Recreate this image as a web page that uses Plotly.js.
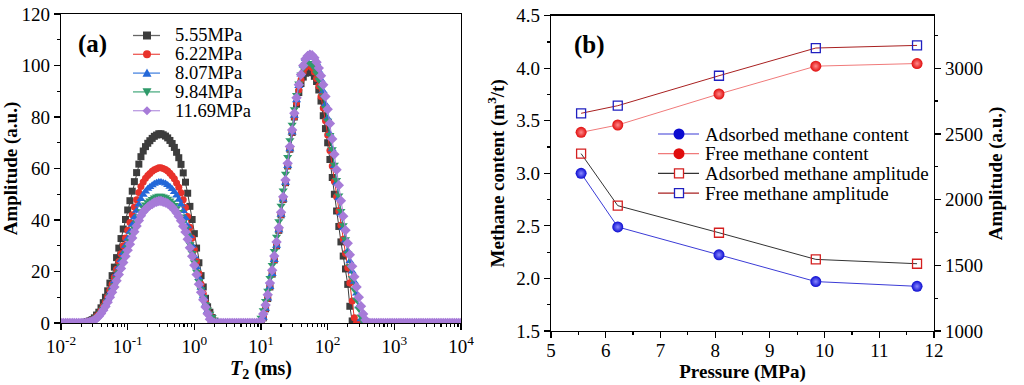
<!DOCTYPE html>
<html><head><meta charset="utf-8">
<script src="https://cdn.plot.ly/plotly-3.0.1.min.js"></script>
<style>html,body{margin:0;padding:0;background:#fff}#chart{width:1024px;height:385px}</style>
</head><body><div id="chart"></div>
<script>
// ---------- Panel (a): T2 spectra ----------
const T2 = [
  0.0100,0.0108,0.0117,0.0126,0.0136,0.0147,0.0158,0.0171,0.0185,0.0200,0.0215,0.0233,0.0251,0.0271,0.0293,0.0316,0.0341,0.0369,0.0398,0.0430,0.0464,0.0501,0.0541,0.0584,0.0631,0.0681,0.0736,0.0794,0.0858,0.0926,
  0.100,0.108,0.117,0.126,0.136,0.147,0.158,0.171,0.185,0.200,0.215,0.233,0.251,0.271,0.293,0.316,0.341,0.369,0.398,0.430,0.464,0.501,0.541,0.584,0.631,0.681,0.736,0.794,0.858,0.926,
  1.00,1.08,1.17,1.26,1.36,1.47,1.58,1.71,1.85,2.00,2.15,2.33,2.51,2.71,2.93,3.16,3.41,3.69,3.98,4.30,4.64,5.01,5.41,5.84,6.31,6.81,7.36,7.94,8.58,9.26,
  10.0,10.8,11.7,12.6,13.6,14.7,15.8,17.1,18.5,20.0,21.5,23.3,25.1,27.1,29.3,31.6,34.1,36.9,39.8,43.0,46.4,50.1,54.1,58.4,63.1,68.1,73.6,79.4,85.8,92.6,
  100,108,117,126,136,147,158,171,185,200,215,233,251,271,293,316,341,369,398,430,464,501,541,584,631,681,736,794,858,926,
  1000,1080,1170,1260,1360,1470,1580,1710,1850,2000,2150,2330,2510,2710,2930,3160,3410,3690,3980,4300,4640,5010,5410,5840,6310,6810,7360,7940,8580,9260,
  10000
];
const seriesNames = ['5.55MPa','6.22MPa','8.07MPa','9.84MPa','11.69MPa'];
const amp555 = [
  0,0,0,0,0,0,0,0,0,0,
  0.1,0.3,0.6,0.9,1.3,2.0,3.1,4.2,5.9,7.9,
  10.0,12.5,15.5,18.4,21.7,25.4,29.1,32.8,36.5,40.2,
  43.9,47.5,51.2,54.9,58.4,61.7,64.6,66.8,68.5,69.8,
  70.8,71.7,72.5,73.0,73.5,73.5,73.1,72.6,71.9,70.9,
  69.7,68.2,66.3,64.2,61.6,58.3,54.7,50.4,45.3,40.2,
  34.7,29.1,23.4,18.4,14.0,9.6,6.3,4.2,2.1,0.7,
  0,0,0,
  0,0,0,0,0,0,0,0,0,0,0,0,0,0,0,0,
  0,0.3,2,5.5,9.5,14,19,24.5,30,36,
  42,48,54.5,61,67.5,74,80,85,89.5,93,
  95.5,97,97.8,98,97.2,95.8,93.8,90.5,86.2,80.5,
  75.5,70,63.5,56.5,50,43.5,37.5,31.5,26,21,
  15,6.5,0.8,0,0,0,0,0,0,0,
  0,
  0,0,0,0,0,0,0,0,0,0,
  0,0,0,0,0,0,0,0,0,0,
  0,0,0,0,0,0,0,0,0,0,
  0,0,0,0,0,0,0,0,0,0,
  0
];
const amp622 = [
  0,0,0,0,0,0,0,0,0,0,
  0.1,0.25,0.5,0.7,1.1,1.6,2.5,3.4,4.8,6.5,
  8.2,10.3,12.7,15.1,17.8,20.9,23.9,26.9,30.0,33.0,
  36.0,39.0,42.0,45.1,47.9,50.7,53.0,54.8,56.2,57.3,
  58.1,58.9,59.5,59.9,60.3,60.3,60.0,59.6,59.0,58.2,
  57.2,56.0,54.4,52.7,50.6,47.9,44.9,41.4,37.2,33.0,
  28.5,23.9,19.2,15.1,11.5,7.9,5.2,3.4,1.7,0.6,
  0,0,0,
  0,0,0,0,0,0,0,0,0,0,0,0,0,0,0,0,
  0,0.3,2,5.5,9.5,14,19,24.5,30,36,
  42,48,54.5,61,67.5,74,80,85.5,90.5,94.5,
  97.5,99.2,100,100,99.2,97.5,95,92,88,83.5,
  78.5,73,67,61,55,49,43.5,38,32.5,27,
  21.5,15.5,8.5,2,0,0,0,0,0,0,
  0,
  0,0,0,0,0,0,0,0,0,0,
  0,0,0,0,0,0,0,0,0,0,
  0,0,0,0,0,0,0,0,0,0,
  0,0,0,0,0,0,0,0,0,0,
  0
];
const amp807 = [
  0,0,0,0,0,0,0,0,0,0,
  0.1,0.2,0.4,0.7,1.0,1.5,2.3,3.1,4.4,5.9,
  7.5,9.3,11.6,13.7,16.2,18.9,21.7,24.5,27.2,30.0,
  32.7,35.4,38.2,41.0,43.6,46.0,48.2,49.8,51.1,52.1,
  52.8,53.5,54.1,54.5,54.8,54.8,54.5,54.2,53.6,52.9,
  52.0,50.9,49.5,47.9,46.0,43.5,40.8,37.6,33.8,30.0,
  25.9,21.7,17.5,13.7,10.4,7.2,4.7,3.1,1.6,0.5,
  0,0,0,
  0,0,0,0,0,0,0,0,0,0,0,0,0,0,0,0,
  0,0.3,2,5.5,9.5,14,19,24.5,30,36,
  42,48,54.5,61,67.5,74,80.5,86.5,92,96.5,
  100,102.5,104,104.5,104.2,103,101,98,94.5,90,
  85,79.5,73.5,67.5,61,54.5,48.5,42.5,37,32,
  28,24,20,16,11.5,6.5,1.5,0,0,0,
  0,
  0,0,0,0,0,0,0,0,0,0,
  0,0,0,0,0,0,0,0,0,0,
  0,0,0,0,0,0,0,0,0,0,
  0,0,0,0,0,0,0,0,0,0,
  0
];
const amp984 = [
  0,0,0,0,0,0,0,0,0,0,
  0.1,0.2,0.4,0.6,0.9,1.3,2.1,2.8,4.0,5.3,
  6.7,8.4,10.4,12.4,14.6,17.1,19.6,22.0,24.5,27.0,
  29.5,31.9,34.4,36.9,39.2,41.5,43.4,44.9,46.0,46.9,
  47.6,48.2,48.7,49.1,49.4,49.4,49.1,48.8,48.3,47.6,
  46.8,45.8,44.6,43.1,41.4,39.2,36.8,33.9,30.6,27.2,
  23.6,19.9,16.2,13.0,10.0,7.3,5.2,3.6,2.3,1.3,
  0.6,0.1,0,
  0,0,0,0,0,0,0,0,0,0,0,0,0,0,0,0,
  0.5,2,5,8.5,12.5,17.5,22.5,28,33.5,39.5,
  45.5,51.5,58,64.5,71,77,83,88.5,93,96.5,
  99,100.5,101,101,100.3,99,97,94.5,91.5,88,
  83.5,78.5,73,67.5,61.5,55.5,49.5,43.5,38,32.5,
  27,22,17.5,13,9,5.5,2.5,0.7,0,0,
  0,
  0,0,0,0,0,0,0,0,0,0,
  0,0,0,0,0,0,0,0,0,0,
  0,0,0,0,0,0,0,0,0,0,
  0,0,0,0,0,0,0,0,0,0,
  0
];
const amp1169 = [
  0,0,0,0,0,0,0,0,0,0,
  0,0.1,0.2,0.4,0.7,1.1,1.8,2.6,3.7,5.0,
  6.4,8.1,10.0,11.9,14.0,16.4,18.8,21.2,23.5,25.9,
  28.3,30.6,33.0,35.4,37.7,39.8,41.7,43.1,44.2,45.0,
  45.7,46.2,46.8,47.1,47.4,47.4,47.1,46.8,46.4,45.7,
  45.0,44.0,42.8,41.4,39.7,37.6,35.3,32.5,29.2,25.9,
  22.4,18.8,15.1,11.9,9.0,6.2,3.6,1.5,0.3,0,
  0,0,0,
  0,0,0,0,0,0,0,0,0,0,0,0,0,0,0,0,
  0,1,3.5,7,11,15.5,20.5,26,31.5,37,
  43,49,55.5,62,68.5,75,81.5,87.5,92.5,96.5,
  100,102.5,103.7,104.2,104,103,101.3,99,96,92.5,
  88,83,77.5,71.5,65.5,59.5,53.5,47.5,41.5,36,
  31,26.5,22,18,14,10,6.5,3.5,1.2,0.2,
  0,
  0,0,0,0,0,0,0,0,0,0,
  0,0,0,0,0,0,0,0,0,0,
  0,0,0,0,0,0,0,0,0,0,
  0,0,0,0,0,0,0,0,0,0,
  0
];
const xTickVals = [0.01,0.1,1,10,100,1000,10000];
const xTickText = ['10<sup>-2</sup>','10<sup>-1</sup>','10<sup>0</sup>','10<sup>1</sup>','10<sup>2</sup>','10<sup>3</sup>','10<sup>4</sup>'];

// ---------- Panel (b): methane content and amplitude ----------
const pressure = [5.55, 6.22, 8.07, 9.84, 11.69];
const adsorbedContent = [3.00, 2.49, 2.225, 1.97, 1.925];
const freeContent = [3.39, 3.46, 3.755, 4.02, 4.045];
const adsorbedAmplitude = [2350, 1954, 1748, 1545, 1512];
const freeAmplitude = [2657, 2715, 2943, 3154, 3174];
const bNames = ['Adsorbed methane content','Free methane content','Adsorbed methane amplitude','Free methane amplitude'];

const FONT = '"Liberation Serif", "Times New Roman", serif';
const aSeries = [amp555, amp622, amp807, amp984, amp1169];
const aColors = ['#3d3d3d','#e8322b','#2468d8','#2f9a6a','#a77bd8'];
const aLineColors = ['#666666','#ee5a55','#4a86e0','#4fae84','#bb9be2'];
const aSymbols = ['square','circle','triangle-up','triangle-down','diamond'];
const aSizes = [7,7,8,8,8];

const traces = [];
aSeries.forEach((ys, i) => {
  traces.push({
    x: T2, y: ys, name: seriesNames[i], type: 'scatter', mode: 'lines+markers',
    xaxis: 'x', yaxis: 'y', showlegend: false,
    line: {color: aColors[i], width: 1},
    marker: {symbol: aSymbols[i], size: aSizes[i], color: aColors[i], line: {width: 0}}
  });
});

const bStyles = [
  {line: '#3b3bd6', fill: '#0b0bd0', edge: '#0b0bd0', open: false},
  {line: '#f07a7a', fill: '#e00d0d', edge: '#e00d0d', open: false},
  {line: '#333333', fill: 'rgba(0,0,0,0)', edge: '#d42020', open: true},
  {line: '#a82020', fill: 'rgba(0,0,0,0)', edge: '#2020c0', open: true}
];
traces.push({
  x: pressure, y: adsorbedContent, name: bNames[0], type: 'scatter', mode: 'lines+markers',
  xaxis: 'x2', yaxis: 'y2', showlegend: false,
  line: {color: bStyles[0].line, width: 1},
  marker: {symbol: 'circle', size: 11, color: '#0b0bd0', gradient: {type: 'radial', color: '#8a8aff'}, line: {width: 0}}
});
traces.push({
  x: pressure, y: freeContent, name: bNames[1], type: 'scatter', mode: 'lines+markers',
  xaxis: 'x2', yaxis: 'y2', showlegend: false,
  line: {color: bStyles[1].line, width: 1},
  marker: {symbol: 'circle', size: 11, color: '#e00d0d', gradient: {type: 'radial', color: '#ff8a8a'}, line: {width: 0}}
});
traces.push({
  x: pressure, y: adsorbedAmplitude, name: bNames[2], type: 'scatter', mode: 'lines+markers',
  xaxis: 'x2', yaxis: 'y3', showlegend: false,
  line: {color: bStyles[2].line, width: 1},
  marker: {symbol: 'square-open', size: 9, color: '#d42020', line: {width: 1.3, color: '#d42020'}}
});
traces.push({
  x: pressure, y: freeAmplitude, name: bNames[3], type: 'scatter', mode: 'lines+markers',
  xaxis: 'x2', yaxis: 'y3', showlegend: false,
  line: {color: bStyles[3].line, width: 1},
  marker: {symbol: 'square-open', size: 9, color: '#2020c0', line: {width: 1.3, color: '#2020c0'}}
});

// ---------- Hand-built legends (compact line spacing, as in the reference) ----------
const W = 1024, H = 385;
const px = v => v / W, py = v => 1 - v / H;
const shapes = [];
const annotations = [];
function keyShape(sym, cx, cy, s, fill, edge) {
  const h = s / 2;
  const base = {xref: 'paper', yref: 'paper', fillcolor: fill, line: {color: edge, width: sym === 'open' ? 1.3 : 0}};
  if (sym === 'square' || sym === 'open') return Object.assign(base, {type: 'rect', x0: px(cx-h), x1: px(cx+h), y0: py(cy+h), y1: py(cy-h)});
  if (sym === 'circle') return Object.assign(base, {type: 'circle', x0: px(cx-h), x1: px(cx+h), y0: py(cy+h), y1: py(cy-h)});
  let pts;
  if (sym === 'triangle-up') pts = [[cx, cy-h], [cx+h, cy+h*0.8], [cx-h, cy+h*0.8]];
  else if (sym === 'triangle-down') pts = [[cx, cy+h], [cx+h, cy-h*0.8], [cx-h, cy-h*0.8]];
  else pts = [[cx, cy-h], [cx+h, cy], [cx, cy+h], [cx-h, cy]];
  const path = 'M' + pts.map(p => px(p[0]) + ',' + py(p[1])).join('L') + 'Z';
  return Object.assign(base, {type: 'path', path: path});
}
// legend (a)
const legA = {lineX0: 133, lineX1: 160, markX: 147, textX: 173, rowY0: 35.5, dy: 18.8};
seriesNames.forEach((nm, i) => {
  const y = legA.rowY0 + i * legA.dy;
  shapes.push({type: 'line', xref: 'paper', yref: 'paper', x0: px(legA.lineX0), x1: px(legA.lineX1), y0: py(y), y1: py(y), line: {color: aLineColors[i], width: 1.3}});
  shapes.push(keyShape(aSymbols[i], legA.markX, y, aSizes[i] + 1, aColors[i], aColors[i]));
  annotations.push({text: nm, xref: 'paper', yref: 'paper', x: px(legA.textX), y: py(y), xanchor: 'left', yanchor: 'middle', showarrow: false, font: {family: FONT, size: 18.5, color: '#000'}});
});
// legend (b)
const legB = {lineX0: 658, lineX1: 699, markX: 679, textX: 703, rowY0: 134, dy: 19.7};
bNames.forEach((nm, i) => {
  const y = legB.rowY0 + i * legB.dy;
  const st = bStyles[i];
  shapes.push({type: 'line', xref: 'paper', yref: 'paper', x0: px(legB.lineX0), x1: px(legB.lineX1), y0: py(y), y1: py(y), line: {color: st.line, width: 1.2}});
  shapes.push(keyShape(st.open ? 'open' : 'circle', legB.markX, y, st.open ? 9 : 11, st.open ? '#ffffff' : st.fill, st.edge));
  annotations.push({text: nm, xref: 'paper', yref: 'paper', x: px(legB.textX), y: py(y), xanchor: 'left', yanchor: 'middle', showarrow: false, font: {family: FONT, size: 19, color: '#000'}});
});
annotations.push({text: '<b>(a)</b>', xref: 'paper', yref: 'paper', x: px(76), y: py(44), xanchor: 'left', yanchor: 'middle', showarrow: false, font: {family: FONT, size: 25, color: '#000'}});
annotations.push({text: '<b>(b)</b>', xref: 'paper', yref: 'paper', x: px(572), y: py(45), xanchor: 'left', yanchor: 'middle', showarrow: false, font: {family: FONT, size: 25, color: '#000'}});

const axBase = {
  showline: true, linecolor: '#000', linewidth: 1.3, ticks: 'outside', ticklen: 6, tickwidth: 1.2,
  tickcolor: '#000', showgrid: false, zeroline: false, tickfont: {family: FONT, size: 19, color: '#000'}
};
const titleFont = {family: FONT, size: 19, color: '#000'};

const layout = {
  width: 1024, height: 385, margin: {l: 0, r: 0, t: 0, b: 0},
  paper_bgcolor: '#fff', plot_bgcolor: '#fff', font: {family: FONT, color: '#000'},
  showlegend: false,
  xaxis: Object.assign({}, axBase, {
    domain: [0.0596, 0.4502], anchor: 'y', type: 'log', range: [-2, 4], mirror: true,
    tickmode: 'array', tickvals: xTickVals, ticktext: xTickText,
    minor: {ticks: 'outside', ticklen: 3, tickcolor: '#000', dtick: 'D1'},
    title: {text: '<b><i>T</i><sub>2</sub> (ms)</b>', font: {family: FONT, size: 20, color: '#000'}, standoff: 2}
  }),
  yaxis: Object.assign({}, axBase, {
    domain: [0.161, 0.9636], anchor: 'x', range: [0, 120], dtick: 20, mirror: true,
    minor: {ticks: 'outside', ticklen: 3, tickcolor: '#000', dtick: 10},
    title: {text: '<b>Amplitude (a.u.)</b>', font: titleFont, standoff: 6}
  }),
  xaxis2: Object.assign({}, axBase, {
    domain: [0.5381, 0.9121], anchor: 'y2', range: [5, 12], dtick: 1, mirror: true,
    ticklabelstandoff: -4,
    minor: {ticks: 'outside', ticklen: 3, tickcolor: '#000', dtick: 0.5},
    title: {text: '<b>Pressure (MPa)</b>', font: titleFont, standoff: 0}
  }),
  yaxis2: Object.assign({}, axBase, {
    domain: [0.1403, 0.9592], anchor: 'x2', range: [1.5, 4.5], dtick: 0.5, tickformat: '.1f',
    minor: {ticks: 'outside', ticklen: 3, tickcolor: '#000', dtick: 0.25},
    title: {text: '<b>Methane content (m<sup>3</sup>/t)</b>', font: titleFont, standoff: 6}
  }),
  yaxis3: Object.assign({}, axBase, {
    overlaying: 'y2', side: 'right', anchor: 'x2', range: [1000, 3400],
    tickmode: 'array', tickvals: [1000, 1500, 2000, 2500, 3000],
    minor: {ticks: 'outside', ticklen: 3, tickcolor: '#000', tickvals: [1250, 1750, 2250, 2750, 3250]},
    title: {text: '<b>Amplitude (a.u.)</b>', font: titleFont, standoff: 6}
  }),
  shapes: shapes,
  annotations: annotations
};

Plotly.newPlot('chart', traces, layout, {staticPlot: true, displayModeBar: false});
</script></body></html>
